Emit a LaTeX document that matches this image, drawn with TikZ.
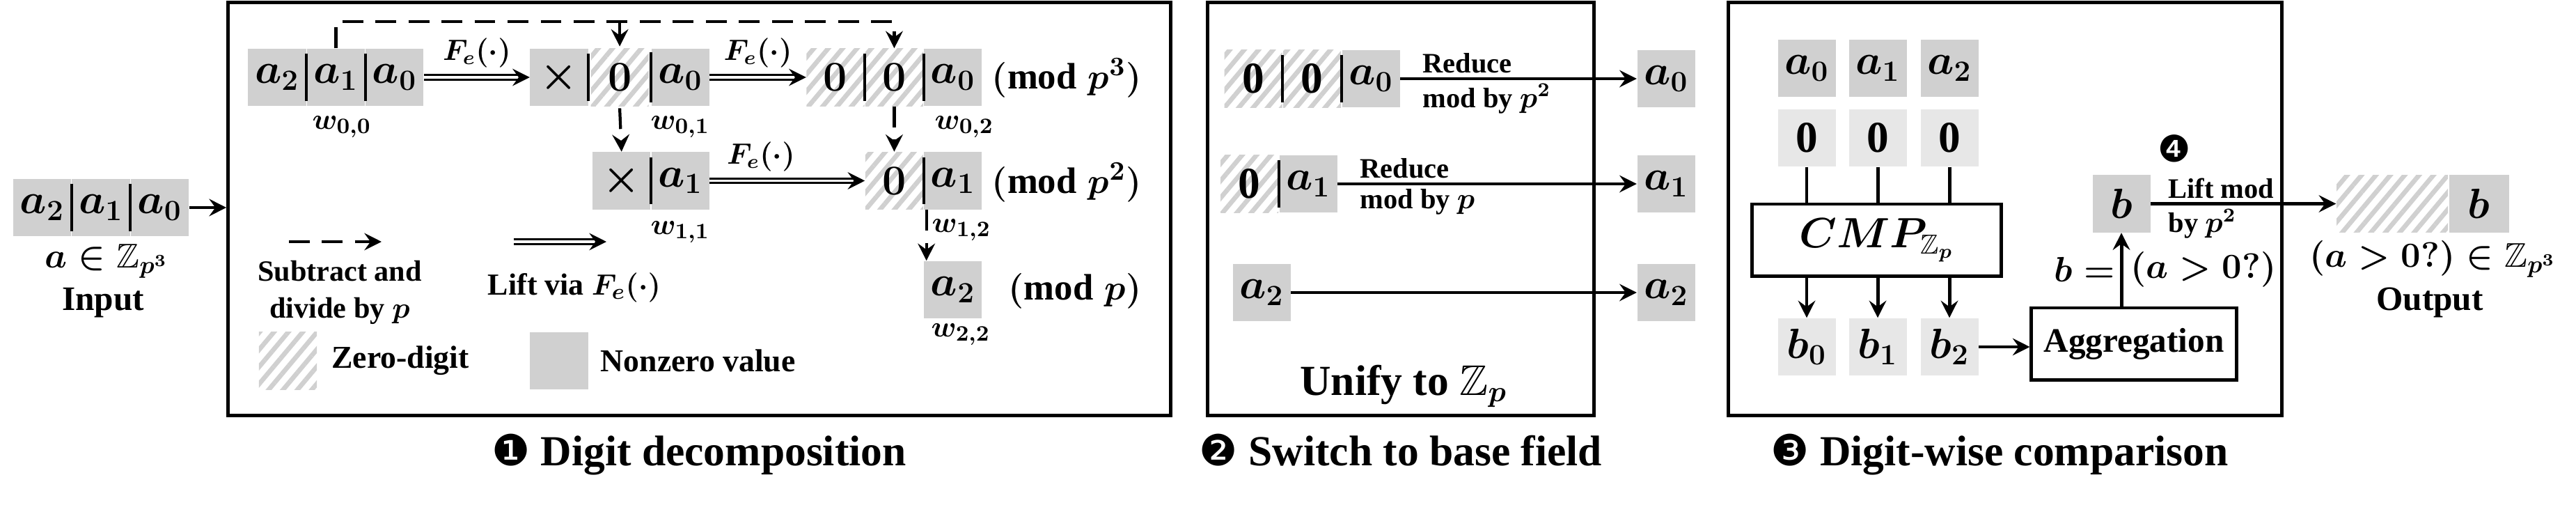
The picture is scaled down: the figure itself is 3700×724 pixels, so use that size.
\documentclass[tikz,border=0pt]{standalone}
\usepackage{amsmath, amssymb}
\usepackage{fontspec}
\setmainfont{Liberation Serif}
\newfontfamily\dejavu{DejaVu Sans}
\usepackage{tikz}
\usetikzlibrary{positioning, patterns.meta, arrows.meta, calc}

\definecolor{nzgray}{HTML}{D0D0D0}
\definecolor{ltgray}{HTML}{E7E7E7}
\definecolor{hatchgray}{HTML}{D0D0D0}

\newcommand{\fsz}[2]{\fontsize{#1}{#2}\selectfont\bfseries\boldmath}

\tikzset{
cell/.style={minimum width=0.83cm, minimum height=0.82cm, inner sep=0pt, font=\fsz{18}{20}},
nz/.style={cell, fill=nzgray},
lz/.style={cell, fill=ltgray},
zd/.style={cell, pattern={Lines[angle=50, distance=4.5pt, line width=1.9pt]}, pattern color=hatchgray},
frame/.style={line width=1.4pt},
arr/.style={line width=1.4pt, -{Stealth[length=7pt, width=7pt, inset=2.5pt]}},
dasharr/.style={arr, line width=1.2pt, dash pattern=on 8.5pt off 5pt},
liftarr/.style={arr, line width=0.85pt, double, double distance=1pt},
sepline/.style={line width=1.2pt, shorten <=2.3pt, shorten >=2.3pt},
lbl/.style={font=\fsz{11.5}{13}, inner sep=1.5pt},
modlbl/.style={font=\fsz{15}{17}, inner sep=0pt, anchor=east},
}

\begin{document}
\begin{tikzpicture}[x=0.01cm, y=-0.01cm]
\useasboundingbox (0,0) rectangle (3700,724);
					%%
\node[frame, draw, minimum width=13.53cm, minimum height=5.92cm] (box1) at (1004.5,300) {};
\node[frame, draw, minimum width=5.54cm, minimum height=5.92cm] (box2) at (2012,300) {};
\node[frame, draw, minimum width=7.94cm, minimum height=5.92cm] (box3) at (2880,300) {};

% input
\node[nz] (in1) at (145,298) {$a_1$};
\node[nz, left=0pt of in1] (in2) {$a_2$};
\node[nz, right=0pt of in1] (in0) {$a_0$};
\node[font=\fsz{14}{16}] at (153,375) {$a\in\mathbb{Z}_{p^3}$};
\node[font=\fsz{14}{16}, anchor=base] at (148,445) {Input};
\draw[arr] (in0) -- (in0 -| box1.west);

% digit decomposition
\node[nz] (w00a) at (398,111) {$a_2$};
\node[nz, right=0pt of w00a] (w00b) {$a_1$};
\node[nz, right=0pt of w00b] (w00c) {$a_0$};
\node[nz] (w01a) at (803,111) {$\times$};
\node[zd, right=0pt of w01a] (w01b) {$0$};
\node[nz, right=0pt of w01b] (w01c) {$a_0$};
\node[zd] (w02a) at (1200,111) {$0$};
\node[zd, right=0pt of w02a] (w02b) {$0$};
\node[nz, right=0pt of w02b] (w02c) {$a_0$};
\node[nz, below=0.65cm of w01c] (w11b) {$a_1$};
\node[nz, left=0pt of w11b] (w11a) {$\times$};
\node[nz, below=0.65cm of w02c] (w12b) {$a_1$};
\node[zd, left=0pt of w12b] (w12a) {$0$};
\node[nz, below=0.73cm of w12b] (w22) {$a_2$};

\node[font=\fsz{13}{15}] at (491,182) {$w_{0,0}$};
\node[font=\fsz{13}{15}] at (977,182) {$w_{0,1}$};
\node[font=\fsz{13}{15}] at (1385,182) {$w_{0,2}$};
\node[font=\fsz{13}{15}] at (977,333) {$w_{1,1}$};
\node[font=\fsz{13}{15}] at (1381,330) {$w_{1,2}$};
\node[font=\fsz{13}{15}] at (1380,480) {$w_{2,2}$};

\node[modlbl] at (1640,112) {$(\textbf{mod}\;p^3)$};
\node[modlbl] at (1640,262) {$(\textbf{mod}\;p^2)$};
\node[modlbl] at (1640,418) {$(\textbf{mod}\;p)$};

\foreach \c in {in2, in1, w00a, w00b, w01a, w01b, w02a, w02b, w11a, w12a}
\draw[sepline] (\c.north east) -- (\c.south east);

\coordinate (dtop) at (481,31);
\draw[dasharr] (w00b.north) -- (w00b.north |- dtop) -| (w02b.north);
\draw[dasharr] (w01b.north |- dtop) -- (w01b.north);
\draw[dasharr] (w01b.south) -- (w11a.north);
\draw[dasharr] (w02b.south) -- (w12a.north);
\draw[dasharr] ([xshift=0.04cm]w12a.south east) -- ([xshift=0.04cm]w12a.south east |- w22.north);

\draw[liftarr] (w00c) -- node[lbl, above=2pt] {$F_e(\cdot)$} (w01a);
\draw[liftarr] (w01c) -- node[lbl, above=2pt] {$F_e(\cdot)$} (w02a);
\draw[liftarr] (w11b) -- node[lbl, above=2pt, pos=0.33] {$F_e(\cdot)$} (w12a);

% legend
\coordinate (ld0) at (415,347);
\coordinate (ld1) at (548,347);
\coordinate (ll0) at (738,347);
\coordinate (ll1) at (871,347);
\draw[dasharr] (ld0) -- (ld1);
\draw[liftarr] (ll0) -- (ll1);
\node[font=\fsz{12}{15}, align=center] at (488,420) {Subtract and\\divide by $p$};
\node[font=\fsz{12.5}{15}] at (825,413) {Lift via $F_e(\cdot)$};
\node[zd] (lgz) at (413.5,518) {};
\node[right=0.2cm of lgz, inner sep=0pt, font=\fsz{13}{15}] {Zero-digit};
\node[nz] (lgn) at (803,518) {};
\node[right=0.17cm of lgn, inner sep=0pt, font=\fsz{13}{15}] {Nonzero value};

% switch to base field
\node[nz] (r0c) at (1969,113) {$a_0$};
\node[zd, left=0pt of r0c] (r0b) {0};
\node[zd, left=0pt of r0b] (r0a) {0};
\node[nz] (r1b) at (1879,264) {$a_1$};
\node[zd, left=0pt of r1b] (r1a) {0};
\node[nz] (r2a) at (1812,420) {$a_2$};
\node[nz] (u0) at (2393,113) {$a_0$};
\node[nz] (u1) at (2393,264) {$a_1$};
\node[nz] (u2) at (2393,420) {$a_2$};
\foreach \c in {r0a, r0b, r1a}
\draw[sepline] (\c.north east) -- (\c.south east);

\draw[arr] (r0c) -- node[lbl, pos=0, anchor=south west, xshift=7pt] {Reduce}
node[lbl, pos=0, anchor=north west, xshift=7pt] {mod by $p^2$} (u0);
\draw[arr] (r1b) -- node[lbl, pos=0, anchor=south west, xshift=7pt] {Reduce}
node[lbl, pos=0, anchor=north west, xshift=7pt] {mod by $p$} (u1);
\draw[arr] (r2a) -- (u2);
\node[font=\fsz{17.5}{20}, anchor=base] at (2016,567) {Unify to $\mathbb{Z}_p$};

% digit-wise comparison
\foreach \i/\x in {0/2595, 1/2697, 2/2800} {
\node[nz] (ca\i) at (\x,98) {$a_\i$};
\node[lz] (cz\i) at (\x,198) {0};
\node[lz] (cb\i) at (\x,498) {$b_\i$};
}
\node[draw, frame, minimum width=3.57cm, minimum height=1.03cm, font=\fsz{16}{18}] (cmp) at (2695.5,344.5) {$CMP_{\mathbb{Z}_p}$};
\foreach \i in {0, 1, 2} {
\draw[frame] (cz\i) -- (cz\i |- cmp.north);
\draw[arr] (cmp.south -| cb\i) -- (cb\i);
}
\node[draw, frame, minimum width=2.94cm, minimum height=1.03cm, font=\fsz{14}{16}] (agg) at (3065,493.5) {Aggregation};
\draw[arr] (cb2.east) -- (cb2.east -| agg.west);
\node[nz] (bb) at (3047,292.5) {$b$};
\draw[arr] (agg.north -| bb) -- node[left, inner sep=2pt, font=\fsz{13.5}{16}] {$b=$}
node[right, inner sep=3pt, font=\fsz{13.5}{16}] {$(a>0?)$} (bb);
\node[font=\dejavu\fontsize{15}{17}\selectfont] at (3123,213) {❹};

% output
\node[zd, minimum width=1.6cm] (oz) at (3436,292.5) {};
\node[nz, right=0pt of oz, minimum width=0.86cm] (ob) {$b$};
\draw[arr] (bb) -- node[lbl, pos=0, anchor=south west, xshift=5pt] {Lift mod}
node[lbl, pos=0, anchor=north west, xshift=5pt] {by $p^2$} (oz);
\node[font=\fsz{14}{16}] at (3494,372) {$(a>0?)\in\mathbb{Z}_{p^3}$};
\node[font=\fsz{14}{16}, anchor=base] at (3490,445) {Output};

% titles
\node[font=\fsz{17.5}{20}, anchor=base] at (1004,668) {{\dejavu\mdseries ❶}~Digit decomposition};
\node[font=\fsz{17.5}{20}, anchor=base] at (2012,668) {{\dejavu\mdseries ❷}~Switch to base field};
\node[font=\fsz{17.5}{20}, anchor=base] at (2872,668) {{\dejavu\mdseries ❸}~Digit-wise comparison};
				\end{tikzpicture}
\end{document}
